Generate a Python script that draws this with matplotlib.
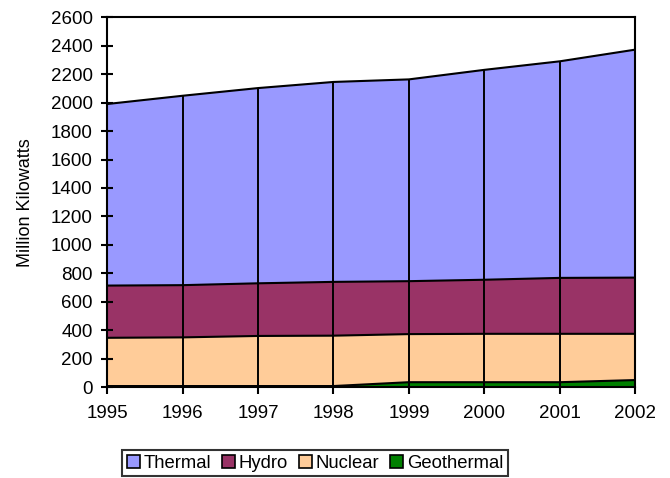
import matplotlib
matplotlib.use("Agg")
import matplotlib.pyplot as plt
from matplotlib.patches import Patch
import numpy as np

plt.rcParams['font.family'] = ['Liberation Sans', 'DejaVu Sans']

years = [1995, 1996, 1997, 1998, 1999, 2000, 2001, 2002]
geothermal = [8, 8, 8, 8, 35, 35, 35, 50]
nuclear = [339, 342, 352, 354, 338, 340, 340, 325]
hydro = [367, 367, 370, 378, 372, 380, 393, 395]
thermal = [1276, 1331, 1372, 1405, 1418, 1475, 1522, 1602]

series = [("Geothermal", geothermal, "#008000"),
          ("Nuclear", nuclear, "#FFCC99"),
          ("Hydro", hydro, "#993366"),
          ("Thermal", thermal, "#9999FF")]

fig = plt.figure(figsize=(6.7, 4.78), dpi=100)
ax = fig.add_axes([0.16, 0.19, 0.788, 0.774])

x = np.array(years)
base = np.zeros(len(years))
for name, vals, color in series:
    top = base + np.array(vals)
    ax.fill_between(x, base, top, facecolor=color, edgecolor="none", zorder=1)
    ax.plot(x, top, color="black", lw=1.5, zorder=3)
    base = top

# drop lines at each year through the full stack
ax.vlines(x, 0, base, colors="black", lw=1.4, zorder=2)

ax.set_xlim(years[0], years[-1])
ax.set_ylim(0, 2600)
ax.set_xticks(years)
ax.set_xticklabels([str(y) for y in years])
ax.set_yticks(np.arange(0, 2601, 200))

for s in ax.spines.values():
    s.set_linewidth(1.5)
    s.set_color("black")
    s.set_zorder(4)

ax.tick_params(axis="y", direction="inout", length=9, width=1.5, labelsize=13.5, pad=6)
ax.tick_params(axis="x", direction="out", length=5, width=1.5, labelsize=13.5, pad=8)

ax.set_ylabel("Million Kilowatts", fontsize=13, labelpad=12)

handles = [Patch(facecolor=c, edgecolor="black", lw=1.2, label=n)
           for n, _, c in reversed(series)]
leg = fig.legend(handles=handles, loc="upper center", ncol=4,
                 bbox_to_anchor=(0.47, 1 - 450 / 478), fontsize=13.3,
                 frameon=True, fancybox=False, edgecolor="black",
                 handlelength=0.7, handleheight=0.7, handletextpad=0.2,
                 columnspacing=0.6, borderpad=0.25, borderaxespad=0)
leg.get_frame().set_linewidth(1.5)

fig.savefig("out.png", dpi=100)
